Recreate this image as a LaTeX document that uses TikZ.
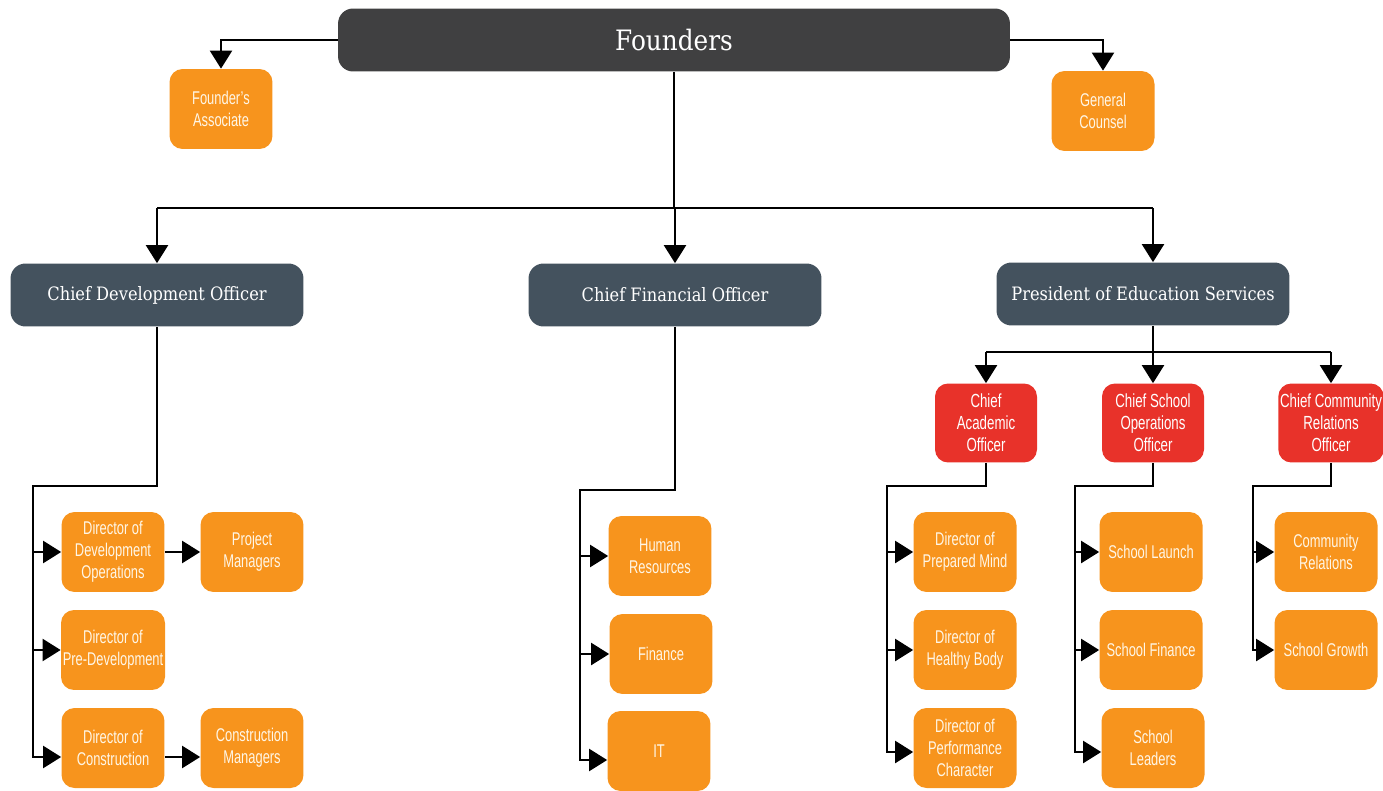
\documentclass[tikz,border=0pt]{standalone}
\usepackage{fontspec}
\newfontfamily\slabfont[FakeStretch=0.88]{DejaVu Serif}
\newfontfamily\narrowfont[FakeStretch=0.70]{Liberation Sans}
\usetikzlibrary{arrows.meta}
\definecolor{founderGray}{HTML}{404041}
\definecolor{slateBlue}{HTML}{44525E}
\definecolor{chiefRed}{HTML}{E8322A}
\definecolor{unitOrange}{HTML}{F7941D}
\definecolor{unitText}{HTML}{FFF6E6}
\tikzset{
  topbox/.style={fill=founderGray, rounded corners=0.3cm, minimum width=13.44cm,
    minimum height=1.26cm, text=white, font=\slabfont\fontsize{16}{19}\selectfont},
  headbox/.style={fill=slateBlue, rounded corners=0.3cm, minimum width=5.86cm,
    minimum height=1.26cm, text=white, font=\slabfont\fontsize{10.5}{13}\selectfont},
  chiefbox/.style={fill=chiefRed, rounded corners=0.26cm, minimum width=2.04cm,
    minimum height=1.58cm, text=white, align=center, inner sep=1pt,
    font=\narrowfont\fontsize{10.8}{12.6}\selectfont},
  unitbox/.style={fill=unitOrange, rounded corners=0.26cm, minimum width=2.06cm,
    minimum height=1.6cm, text=unitText, align=center, inner sep=1pt,
    font=\narrowfont\fontsize{10.5}{12.6}\selectfont},
  link/.style={draw=black, line width=1.2pt},
  arr/.style={link, -{Triangle[width=0.44cm, length=0.36cm]}}
}
\begin{document}
\begin{tikzpicture}[x=0.02cm, y=-0.02cm]
  \useasboundingbox (0,0) rectangle (1383,791);

  % top level
  \node[topbox] (founders) at (674,40) {Founders};
  \node[unitbox] (fassoc) at (221,109) {Founder’s\\Associate};
  \node[unitbox] (counsel) at (1103,111) {General\\Counsel};

  % second level
  \node[headbox] (cdo) at (157,295) {Chief Development Officer};
  \node[headbox] (cfo) at (675,295) {Chief Financial Officer};
  \node[headbox] (pes) at (1143,294) {President of Education Services};

  % chiefs under education services
  \node[chiefbox] (cao) at (986,423) {Chief\\Academic\\Officer};
  \node[chiefbox] (csoo) at (1153,423) {Chief School\\Operations\\Officer};
  \node[chiefbox] (ccro) at (1331,423) {Chief Community\\Relations\\Officer};

  % development
  \node[unitbox] (ddo) at (113,552) {Director of\\Development\\Operations};
  \node[unitbox] (pm) at (252,552) {Project\\Managers};
  \node[unitbox] (dpd) at (113,650) {Director of\\Pre-Development};
  \node[unitbox] (dc) at (113,748) {Director of\\Construction};
  \node[unitbox] (cm) at (252,748) {Construction\\Managers};

  % finance
  \node[unitbox] (hr) at (660,556) {Human\\Resources};
  \node[unitbox] (fin) at (661,654) {Finance};
  \node[unitbox] (it) at (659,751) {IT};

  % academic
  \node[unitbox] (dpm) at (965,552) {Director of\\Prepared Mind};
  \node[unitbox] (dhb) at (965,650) {Director of\\Healthy Body};
  \node[unitbox] (dpc) at (965,748) {Director of\\Performance\\Character};

  % school operations
  \node[unitbox] (slaunch) at (1151,552) {School Launch};
  \node[unitbox] (sfin) at (1151,650) {School Finance};
  \node[unitbox] (slead) at (1153,748) {School\\Leaders};

  % community relations
  \node[unitbox] (crel) at (1326,552) {Community\\Relations};
  \node[unitbox] (sgrow) at (1326,650) {School Growth};

  % bends of the connectors
  \coordinate (bus) at (674,208);
  \coordinate (pesbus) at (1153,352);
  \coordinate (cdotrunk) at (33,486);
  \coordinate (cfotrunk) at (580,490);
  \coordinate (caotrunk) at (887,486);
  \coordinate (csootrunk) at (1075,486);
  \coordinate (ccrotrunk) at (1253,486);

  % founders to their staff
  \draw[arr] (founders.west) -| (fassoc.north);
  \draw[arr] (founders.east) -| (counsel.north);
  \draw[link] (founders.south) -- (bus);
  \draw[link] (cdo.north |- bus) -- (csoo.north |- bus);
  \draw[arr] (cdo.north |- bus) -- (cdo.north);
  \draw[arr] (cfo.north |- bus) -- (cfo.north);
  \draw[arr] (csoo.north |- bus) -- (csoo.north |- pes.north);

  % education services to chiefs
  \draw[link] (csoo.north |- pes.south) -- (pesbus);
  \draw[link] (cao.north |- pesbus) -- (ccro.north |- pesbus);
  \draw[arr] (cao.north |- pesbus) -- (cao.north);
  \draw[arr] (pesbus) -- (csoo.north);
  \draw[arr] (ccro.north |- pesbus) -- (ccro.north);

  % development branch
  \draw[arr] (cdo.south) |- (cdotrunk) |- ([yshift=-0.18cm]dc.west);
  \draw[arr] (cdotrunk |- ddo.west) -- (ddo.west);
  \draw[arr] (cdotrunk |- dpd.west) -- (dpd.west);
  \draw[arr] (ddo.east) -- (pm.west);
  \draw[arr] ([yshift=-0.18cm]dc.east) -- ([yshift=-0.18cm]cm.west);

  % finance branch
  \draw[arr] (cfo.south) |- (cfotrunk) |- ([yshift=-0.18cm]it.west);
  \draw[arr] (cfotrunk |- hr.west) -- (hr.west);
  \draw[arr] (cfotrunk |- fin.west) -- (fin.west);

  % academic branch
  \draw[arr] (cao.south) |- (caotrunk) |- ([yshift=-0.08cm]dpc.west);
  \draw[arr] (caotrunk |- dpm.west) -- (dpm.west);
  \draw[arr] (caotrunk |- dhb.west) -- (dhb.west);

  % school operations branch
  \draw[arr] (csoo.south) |- (csootrunk) |- ([yshift=-0.08cm]slead.west);
  \draw[arr] (csootrunk |- slaunch.west) -- (slaunch.west);
  \draw[arr] (csootrunk |- sfin.west) -- (sfin.west);

  % community branch
  \draw[arr] (ccro.south) |- (ccrotrunk) |- (sgrow.west);
  \draw[arr] (ccrotrunk |- crel.west) -- (crel.west);
\end{tikzpicture}
\end{document}
